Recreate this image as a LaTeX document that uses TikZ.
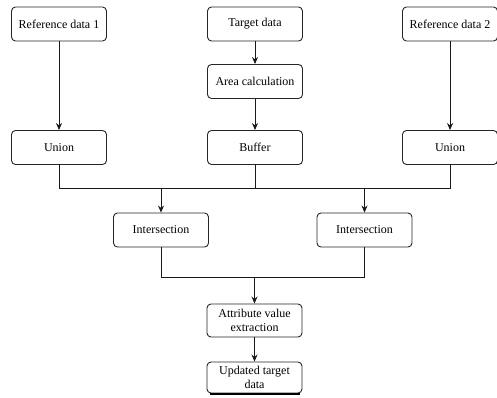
\documentclass[tikz,border=0pt]{standalone}
\usepackage{fontspec}
\setmainfont{Liberation Serif}
\usetikzlibrary{arrows.meta}
\begin{document}
\begin{tikzpicture}[x=1pt,y=-1pt,
  box/.style={draw=black!85, line width=0.9pt, rounded corners=4pt, minimum width=95pt, minimum height=34pt, align=center, inner sep=1pt, font=\fontsize{12}{14.5}\selectfont},
  conn/.style={draw=black!90, line width=0.9pt},
  arr/.style={conn, -{Stealth[length=7pt,width=6pt]}}]
\useasboundingbox (0,0) rectangle (497,397);
\node[box] (ref1) at (59,24) {Reference data 1};
\node[box] (target) at (255,24) {Target data};
\node[box] (ref2) at (450,24) {Reference data 2};
\node[box] (area) at (255,81.5) {Area calculation};
\node[box] (union1) at (59,147.5) {Union};
\node[box] (buffer) at (255,147.5) {Buffer};
\node[box] (union2) at (450,147.5) {Union};
\node[box] (int1) at (161,230) {Intersection};
\node[box] (int2) at (364.5,230) {Intersection};
\node[box, minimum height=33pt] (attr) at (254.5,320.5) {Attribute value\\extraction};
\node[box, minimum height=31pt] (upd) at (254.5,377.5) {Updated target\\data};
\draw[black, line width=2.2pt] ([xshift=-45pt,yshift=-0.5pt]upd.south) -- ([xshift=45pt,yshift=-0.5pt]upd.south);
\coordinate (j1l) at (59,188);
\coordinate (j1r) at (450,188);
\coordinate (j1m) at (255,188);
\coordinate (j1a) at (161,188);
\coordinate (j1b) at (364.5,188);
\coordinate (j2l) at (161,277);
\coordinate (j2r) at (364.5,277);
\coordinate (j2m) at (254.5,277);
\draw[arr] (ref1) -- (union1);
\draw[arr] (target) -- (area);
\draw[arr] (area) -- (buffer);
\draw[arr] (ref2) -- (union2);
\draw[conn] (union1.south) -- (j1l) -- (j1r) -- (union2.south);
\draw[conn] (buffer.south) -- (j1m);
\draw[arr] (j1a) -- (int1.north);
\draw[arr] (j1b) -- (int2.north);
\draw[conn] (int1.south) -- (j2l) -- (j2r) -- (int2.south);
\draw[arr] (j2m) -- (attr.north);
\draw[arr] (attr) -- (upd);
\end{tikzpicture}
\end{document}
